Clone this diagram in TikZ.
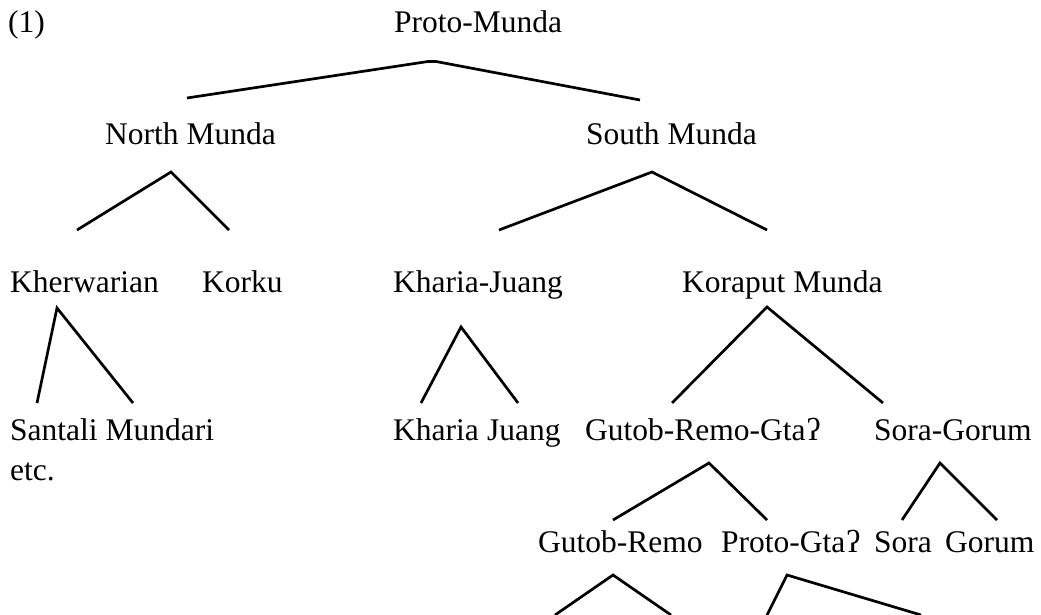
\documentclass[tikz,border=0pt]{standalone}
\usepackage{fontspec}
\setmainfont{Liberation Serif}
\begin{document}
\begin{tikzpicture}[x=1pt,y=-1pt,
  lbl/.style={anchor=base west,inner sep=0pt,font=\fontsize{31.5}{36}\selectfont},
  branch/.style={line width=2.7pt,line cap=butt,line join=miter}]
\useasboundingbox (0,0) rectangle (1041,615);
% texts
\node[lbl] (ex) at (8,33) {(1)};
\node[lbl] (pm) at (394,33) {Proto-Munda};
\node[lbl] (nm) at (105,144) {North Munda};
\node[lbl] (sm) at (586,144) {South Munda};
\node[lbl] (kh) at (10,292) {Kherwarian};
\node[lbl] (ko) at (202,292) {Korku};
\node[lbl] (kj) at (393,292) {Kharia-Juang};
\node[lbl] (km) at (682,292) {Koraput Munda};
\node[lbl] (sa) at (10,440) {Santali Mundari};
\node[lbl] (etc) at (10,480) {etc.};
\node[lbl] (kha) at (393,440) {Kharia};
\node[lbl] (ju) at (487,440) {Juang};
\node[lbl] (grg) at (585,440) {Gutob-Remo-Gta\kern1ptʔ};
\node[lbl] (sg) at (874,440) {Sora-Gorum};
\node[lbl] (gr) at (538,552) {Gutob-Remo};
\node[lbl] (pg) at (721,552) {Proto-Gta\kern1ptʔ};
\node[lbl] (so) at (874,552) {Sora};
\node[lbl] (go) at (945,552) {Gorum};
% branch points
\coordinate (pmL) at (187,98);
\coordinate (pmA1) at (428,61.5);
\coordinate (pmA2) at (436,61.5);
\coordinate (pmR) at (640,100);
\coordinate (nmA) at (171,172);
\coordinate (nmL) at (77,230);
\coordinate (nmR) at (229,230);
\coordinate (smA) at (652,172);
\coordinate (smL) at (499,230);
\coordinate (smR) at (767,230);
\coordinate (khA) at (57,308);
\coordinate (khL) at (37,403);
\coordinate (khR) at (133,403);
\coordinate (kjA) at (461,327);
\coordinate (kjL) at (421,403);
\coordinate (kjR) at (518,403);
\coordinate (kmA) at (767,307);
\coordinate (kmL) at (672,403);
\coordinate (kmR) at (883,403);
\coordinate (grgA) at (709,463);
\coordinate (grgL) at (613,520);
\coordinate (grgR) at (767,520);
\coordinate (sgA) at (940,463);
\coordinate (sgL) at (902,520);
\coordinate (sgR) at (997,520);
\coordinate (grA) at (613,575);
\coordinate (grL) at (555,615);
\coordinate (grR) at (671,615);
\coordinate (pgA) at (787,575);
\coordinate (pgL) at (767,615);
\coordinate (pgR) at (921,615);
% connectors
\draw[branch] (pmL) -- (pmA1) -- (pmA2) -- (pmR);
\draw[branch] (nmL) -- (nmA) -- (nmR);
\draw[branch] (smL) -- (smA) -- (smR);
\draw[branch] (khL) -- (khA) -- (khR);
\draw[branch] (kjL) -- (kjA) -- (kjR);
\draw[branch] (kmL) -- (kmA) -- (kmR);
\draw[branch] (grgL) -- (grgA) -- (grgR);
\draw[branch] (sgL) -- (sgA) -- (sgR);
\draw[branch] (grL) -- (grA) -- (grR);
\draw[branch] (pgL) -- (pgA) -- (pgR);
\end{tikzpicture}
\end{document}
